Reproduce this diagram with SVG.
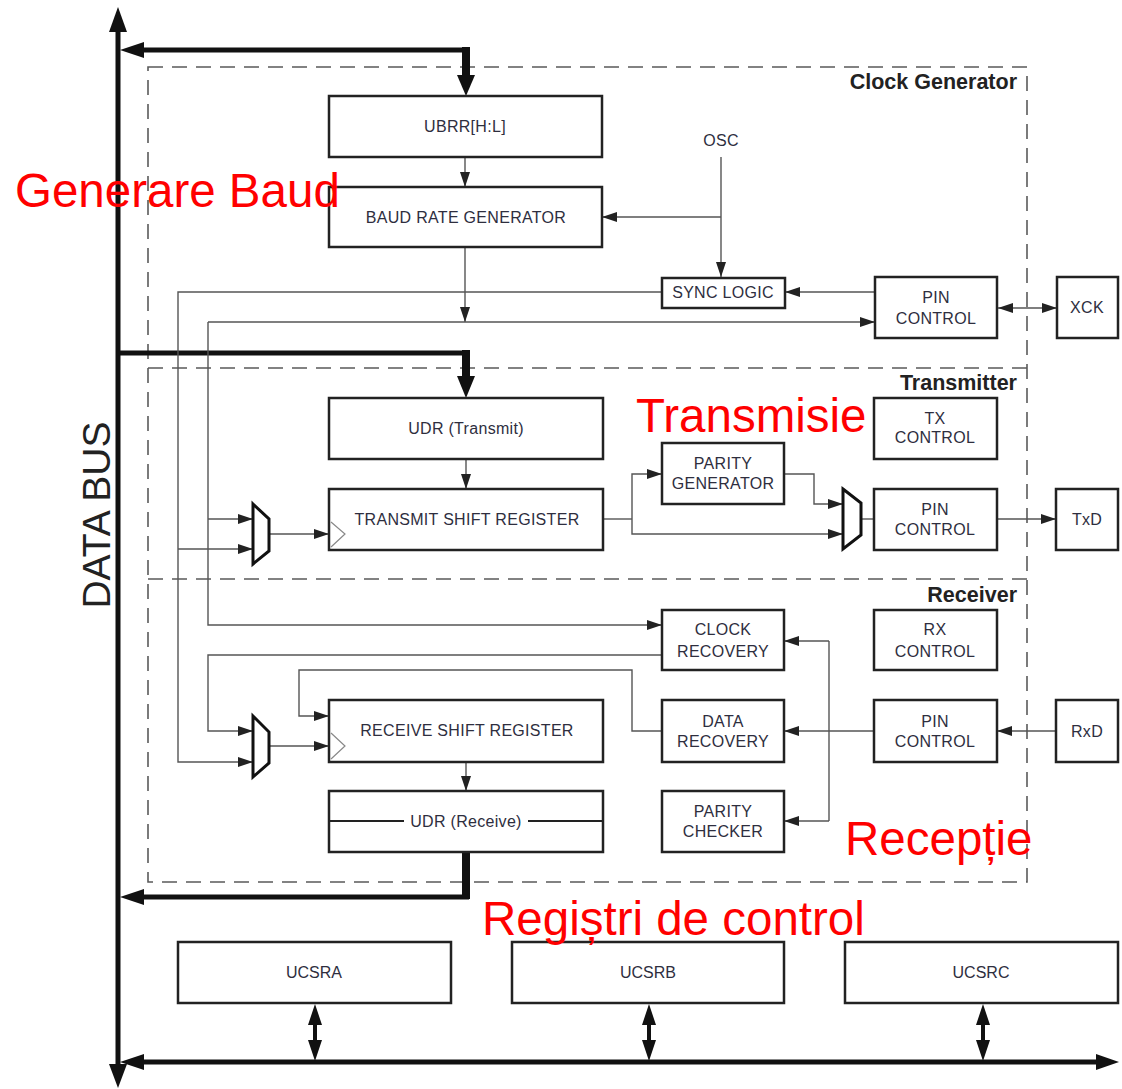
<svg xmlns="http://www.w3.org/2000/svg" width="1122" height="1089" viewBox="0 0 1122 1089">
<style>
.box{fill:#fff;stroke:#222;stroke-width:2.5}
.t{font-family:"Liberation Sans",Arial,sans-serif;font-size:16px;letter-spacing:0.3px;fill:#2e2e3e;text-anchor:middle}
.ts{font-family:"Liberation Sans",Arial,sans-serif;font-size:16px;fill:#2e2e3e;text-anchor:middle}
.hdr{font-family:"Liberation Sans",Arial,sans-serif;font-weight:bold;font-size:21.5px;fill:#222;text-anchor:end}
.red{font-family:"Liberation Sans",Arial,sans-serif;font-size:47.5px;fill:#ff0000}
.w{fill:none;stroke:#555;stroke-width:1.4}
.dash{fill:none;stroke:#5a5a5a;stroke-width:1.6;stroke-dasharray:15 9}
.bus{fill:none;stroke:#111;stroke-width:5}
.busv{fill:none;stroke:#111;stroke-width:8}
.head{fill:#111}
.mux{fill:#fff;stroke:#111;stroke-width:3;stroke-linejoin:miter}
.clk{fill:none;stroke:#888;stroke-width:1.2}
</style>
<defs>
<marker id="a" markerUnits="userSpaceOnUse" markerWidth="15" markerHeight="10" refX="15" refY="5" orient="auto-start-reverse">
<path d="M0,0 L15,5 L0,10 z" fill="#222"/>
</marker>
</defs>
<rect width="1122" height="1089" fill="#fff"/>

<g id="regions">
<path class="dash" d="M148,67 H1027 V882 H148 Z"/>
<path class="dash" d="M148,368 H1027"/>
<path class="dash" d="M148,579 H1027"/>
<text class="hdr" x="1017" y="89">Clock Generator</text>
<text class="hdr" x="1017" y="390">Transmitter</text>
<text class="hdr" x="1017" y="602">Receiver</text>
</g>

<g id="buses">
<line class="bus" x1="118" y1="28" x2="118" y2="1068"/>
<polygon class="head" points="118,7 109,32 127,32"/>
<polygon class="head" points="118,1088 109,1064 127,1064"/>
<text font-family="Liberation Sans, Arial, sans-serif" font-size="39" fill="#222" text-anchor="middle" transform="translate(110,515) rotate(-90)">DATA BUS</text>
<path class="bus" d="M466,50 H140"/>
<polygon class="head" points="120,50 144,42 144,58"/>
<path class="busv" d="M466,47 V78"/>
<polygon class="head" points="457,75 475,75 466,96"/>
<path class="bus" d="M118,353 H466"/>
<path class="busv" d="M466,350 V378"/>
<polygon class="head" points="457,376 475,376 466,398"/>
<path class="busv" d="M466,852 V899"/>
<path class="bus" d="M469,897 H140"/>
<polygon class="head" points="120,897 144,889 144,905"/>
<path class="bus" d="M140,1062 H1098"/>
<polygon class="head" points="120,1062 144,1054 144,1070"/>
<polygon class="head" points="1119,1062 1096,1054 1096,1070"/>
<path fill="none" stroke="#111" stroke-width="4" d="M315,1020 V1045 M649,1020 V1045 M983,1020 V1045"/>
<polygon class="head" points="315,1004 308,1025 322,1025"/>
<polygon class="head" points="315,1061 308,1040 322,1040"/>
<polygon class="head" points="649,1004 642,1025 656,1025"/>
<polygon class="head" points="649,1061 642,1040 656,1040"/>
<polygon class="head" points="983,1004 976,1025 990,1025"/>
<polygon class="head" points="983,1061 976,1040 990,1040"/>
</g>

<g id="connectors">
<path class="w" d="M465,157 V187" marker-end="url(#a)"/>
<path class="w" d="M721,157 V277" marker-end="url(#a)"/>
<path class="w" d="M721,217 H602" marker-end="url(#a)"/>
<text class="t" x="721" y="146">OSC</text>
<path class="w" d="M465,247 V322" marker-end="url(#a)"/>
<path class="w" d="M208,322 H875" marker-end="url(#a)"/>
<path class="w" d="M208,322 V625 H662" marker-end="url(#a)"/>
<path class="w" d="M208,519 H253" marker-end="url(#a)"/>
<path class="w" d="M875,292 H785" marker-end="url(#a)"/>
<path class="w" d="M662,292 H178 V762 H253" marker-end="url(#a)"/>
<path class="w" d="M178,549 H253" marker-end="url(#a)"/>
<path class="w" d="M998,308 H1057" marker-start="url(#a)" marker-end="url(#a)"/>
<path class="w" d="M466,459 V489" marker-end="url(#a)"/>
<path class="w" d="M269,534 H329" marker-end="url(#a)"/>
<path class="w" d="M603,519 H632"/>
<path class="w" d="M632,519 V474 H662" marker-end="url(#a)"/>
<path class="w" d="M632,519 V534 H843" marker-end="url(#a)"/>
<path class="w" d="M784,474 H814 V504 H843" marker-end="url(#a)"/>
<path class="w" d="M861,519 H874"/>
<path class="w" d="M997,519 H1056" marker-end="url(#a)"/>
<path class="w" d="M662,655 H208 V731 H253" marker-end="url(#a)"/>
<path class="w" d="M662,731 H632 V670 H299 V716 H329" marker-end="url(#a)"/>
<path class="w" d="M269,746 H329" marker-end="url(#a)"/>
<path class="w" d="M1056,731 H997" marker-end="url(#a)"/>
<path class="w" d="M874,731 H784" marker-end="url(#a)"/>
<path class="w" d="M829,641 V821"/>
<path class="w" d="M829,641 H784" marker-end="url(#a)"/>
<path class="w" d="M829,821 H784" marker-end="url(#a)"/>
<path class="w" d="M466,762 V791" marker-end="url(#a)"/>
</g>

<g id="ubrr"><rect class="box" x="329" y="96" width="273" height="61"/><text class="t" x="465" y="132">UBRR[H:L]</text></g>
<g id="brg"><rect class="box" x="329" y="187" width="273" height="60"/><text class="t" x="466" y="223">BAUD RATE GENERATOR</text></g>
<g id="sync"><rect class="box" x="662" y="278" width="123" height="30"/><text class="t" x="723" y="298">SYNC LOGIC</text></g>
<g id="pinclk"><rect class="box" x="875" y="277" width="122" height="61"/><text class="t" x="936" y="303">PIN</text><text class="t" x="936" y="324">CONTROL</text></g>
<g id="xck"><rect class="box" x="1057" y="277" width="61" height="61"/><text class="t" x="1087" y="313">XCK</text></g>

<g id="udrt"><rect class="box" x="329" y="398" width="274" height="61"/><text class="t" x="466" y="434">UDR (Transmit)</text></g>
<g id="tsr"><rect class="box" x="329" y="489" width="274" height="61"/><text class="t" x="467" y="525">TRANSMIT SHIFT REGISTER</text><polyline class="clk" points="331,522 345,534 331,547"/></g>
<g id="muxtx"><polygon class="mux" points="253,504 269,519 269,551 253,564"/></g>
<g id="parg"><rect class="box" x="662" y="443" width="122" height="61"/><text class="t" x="723" y="469">PARITY</text><text class="t" x="723" y="489">GENERATOR</text></g>
<g id="muxout"><polygon class="mux" points="843,489 861,503 861,535 843,549"/></g>
<g id="txc"><rect class="box" x="874" y="398" width="123" height="61"/><text class="t" x="935" y="424">TX</text><text class="t" x="935" y="443">CONTROL</text></g>
<g id="pintx"><rect class="box" x="874" y="489" width="123" height="61"/><text class="t" x="935" y="515">PIN</text><text class="t" x="935" y="535">CONTROL</text></g>
<g id="txd"><rect class="box" x="1056" y="489" width="62" height="61"/><text class="t" x="1087" y="525">TxD</text></g>

<g id="clkrec"><rect class="box" x="662" y="610" width="122" height="60"/><text class="t" x="723" y="635">CLOCK</text><text class="t" x="723" y="657">RECOVERY</text></g>
<g id="rxc"><rect class="box" x="874" y="610" width="123" height="60"/><text class="t" x="935" y="635">RX</text><text class="t" x="935" y="657">CONTROL</text></g>
<g id="datarec"><rect class="box" x="662" y="700" width="122" height="62"/><text class="t" x="723" y="727">DATA</text><text class="t" x="723" y="747">RECOVERY</text></g>
<g id="pinrx"><rect class="box" x="874" y="700" width="123" height="62"/><text class="t" x="935" y="727">PIN</text><text class="t" x="935" y="747">CONTROL</text></g>
<g id="rxd"><rect class="box" x="1056" y="700" width="62" height="62"/><text class="t" x="1087" y="737">RxD</text></g>
<g id="muxrx"><polygon class="mux" points="253,716 269,732 269,763 253,777"/></g>
<g id="rsr"><rect class="box" x="329" y="700" width="274" height="62"/><text class="t" x="467" y="736">RECEIVE SHIFT REGISTER</text><polyline class="clk" points="331,733 345,746 331,759"/></g>
<g id="udrr"><rect class="box" x="329" y="791" width="274" height="61"/><path fill="none" stroke="#222" stroke-width="2" d="M329,821 H404 M528,821 H603"/><text class="t" x="466" y="827">UDR (Receive)</text></g>
<g id="parc"><rect class="box" x="662" y="791" width="122" height="61"/><text class="t" x="723" y="817">PARITY</text><text class="t" x="723" y="837">CHECKER</text></g>

<g id="ucsra"><rect class="box" x="178" y="942" width="273" height="61"/><text class="ts" x="314" y="978">UCSRA</text></g>
<g id="ucsrb"><rect class="box" x="512" y="942" width="272" height="61"/><text class="ts" x="648" y="978">UCSRB</text></g>
<g id="ucsrc"><rect class="box" x="845" y="942" width="273" height="61"/><text class="ts" x="981" y="978">UCSRC</text></g>

<g id="annotations">
<text class="red" x="15" y="207">Generare Baud</text>
<text class="red" x="636" y="432">Transmisie</text>
<text class="red" x="845" y="855">Recepție</text>
<text class="red" x="482" y="935">Regiștri de control</text>
</g>
</svg>
